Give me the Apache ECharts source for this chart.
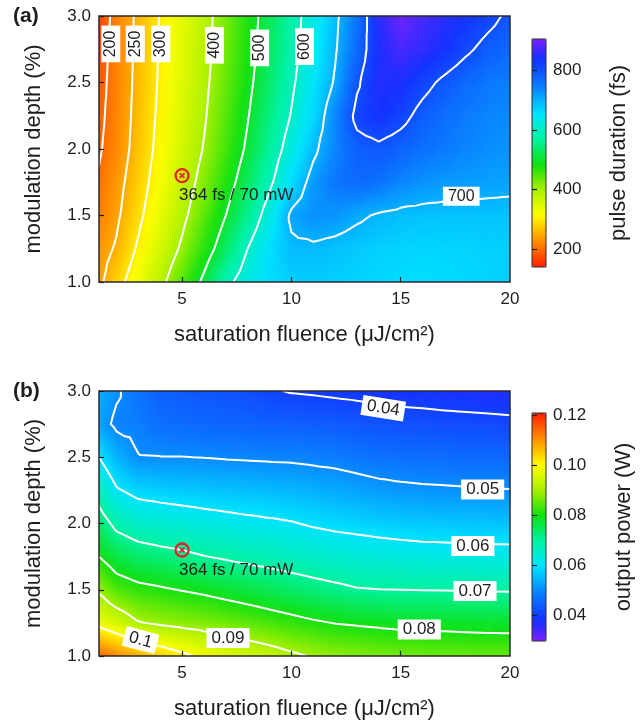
<!DOCTYPE html>
<html><head><meta charset="utf-8">
<script src="https://cdn.jsdelivr.net/npm/echarts@6/dist/echarts.min.js"></script>
<style>html,body{margin:0;padding:0;background:#fff}#c{width:644px;height:724px}</style>
</head><body><div id="c"></div>
<script>
// ---------------- data ----------------
const fluence = [1.2, 2, 3, 4, 5, 6, 7, 8, 9, 10, 11, 12, 13, 14, 15, 16, 17, 18, 19, 20];
const depth = [1.0, 1.25, 1.5, 1.75, 2.0, 2.25, 2.5, 2.75, 3.0];
// pulse duration (fs); one row per modulation depth (1.0 -> 3.0), one column per fluence
const pulseDuration = [
  [240, 280, 332, 384, 445, 512, 584, 630, 658, 672, 675, 672, 668, 664, 660, 658, 660, 664, 668, 672],
  [232, 255, 307, 357, 409, 470, 533, 600, 655, 690, 692, 685, 678, 672, 668, 665, 666, 668, 670, 672],
  [215, 242, 289, 338, 386, 441, 500, 559, 626, 710, 730, 725, 708, 695, 688, 685, 684, 684, 684, 684],
  [205, 234, 277, 325, 370, 419, 475, 531, 589, 657, 720, 755, 770, 760, 740, 728, 722, 718, 715, 712],
  [195, 223, 269, 315, 359, 403, 455, 509, 566, 625, 688, 740, 780, 790, 778, 762, 750, 740, 733, 728],
  [190, 220, 265, 310, 352, 394, 445, 497, 550, 603, 662, 737, 815, 835, 815, 785, 765, 750, 740, 735],
  [185, 219, 262, 306, 347, 388, 436, 487, 538, 590, 647, 706, 792, 845, 840, 815, 790, 770, 755, 745],
  [180, 218, 260, 304, 344, 384, 430, 480, 530, 580, 635, 694, 769, 840, 870, 855, 835, 808, 785, 770],
  [170, 217, 259, 302, 342, 382, 427, 476, 525, 575, 629, 688, 757, 850, 895, 870, 850, 835, 815, 790]
];
// output power (W)
const outputPower = [
  [0.114, 0.111, 0.1075, 0.1045, 0.1015, 0.0985, 0.0965, 0.0948, 0.0932, 0.0912, 0.0895, 0.0882, 0.0874, 0.0868, 0.0863, 0.086, 0.0858, 0.0856, 0.0855, 0.0854],
  [0.098, 0.0949, 0.0904, 0.089, 0.088, 0.0871, 0.0861, 0.0848, 0.0834, 0.0821, 0.0808, 0.0798, 0.0793, 0.0788, 0.0783, 0.0782, 0.078, 0.0778, 0.0776, 0.0775],
  [0.089, 0.084, 0.0818, 0.0808, 0.0797, 0.0787, 0.0774, 0.0762, 0.075, 0.0737, 0.0725, 0.0715, 0.0704, 0.0701, 0.07, 0.0699, 0.0698, 0.0697, 0.0696, 0.0695],
  [0.080, 0.0758, 0.0736, 0.0725, 0.0715, 0.0702, 0.0692, 0.0682, 0.0674, 0.0665, 0.0656, 0.0647, 0.064, 0.0636, 0.0632, 0.0628, 0.0627, 0.0625, 0.0624, 0.0623],
  [0.0734, 0.0682, 0.0656, 0.0646, 0.0638, 0.063, 0.0623, 0.0616, 0.061, 0.0604, 0.0593, 0.0585, 0.058, 0.0574, 0.0569, 0.0566, 0.0564, 0.0562, 0.0561, 0.056],
  [0.0668, 0.0607, 0.058, 0.0573, 0.0568, 0.0563, 0.0558, 0.0554, 0.0551, 0.0546, 0.0539, 0.0533, 0.0525, 0.0517, 0.0512, 0.0509, 0.0507, 0.0505, 0.0503, 0.0502],
  [0.060, 0.0543, 0.0502, 0.0501, 0.0501, 0.0499, 0.0496, 0.0494, 0.0492, 0.0491, 0.0487, 0.0483, 0.0476, 0.0469, 0.0466, 0.0463, 0.0461, 0.0459, 0.0458, 0.0456],
  [0.0525, 0.0488, 0.0484, 0.0465, 0.046, 0.0455, 0.045, 0.0448, 0.0446, 0.0443, 0.0441, 0.0437, 0.0431, 0.0427, 0.0422, 0.042, 0.0417, 0.0415, 0.0413, 0.0411],
  [0.054, 0.0508, 0.047, 0.0445, 0.0435, 0.043, 0.0425, 0.042, 0.0405, 0.0397, 0.0394, 0.039, 0.0387, 0.0384, 0.038, 0.0378, 0.0376, 0.0374, 0.0372, 0.037]
];
const durationLevels = [200, 250, 300, 400, 500, 600, 700, 800];
const powerLevels = [0.04, 0.05, 0.06, 0.07, 0.08, 0.09, 0.1];
const fluenceTicks = [5, 10, 15];
const fluenceTickLabels = [5, 10, 15, 20];
const durationBarTicks = [200, 400, 600, 800];
const powerBarTicks = [0.04, 0.06, 0.08, 0.10, 0.12];
const durationRange = [140, 905];
const powerRange = [0.0296, 0.1208];
// contour label anchors [fluence, depth, text]
const durationLabelSpots = [[1.74, 2.79, '200'], [2.86, 2.79, '250'], [4.03, 2.79, '300'], [6.48, 2.78, '400'], [8.55, 2.76, '500'], [10.6, 2.77, '600'], [17.77, 1.645, '700']];
const powerLabelSpots = [[14.2, 2.87, '0.04'], [18.75, 2.257, '0.05'], [18.3, 1.83, '0.06'], [18.4, 1.49, '0.07'], [15.85, 1.2, '0.08'], [7.1, 1.135, '0.09'], [3.1, 1.12, '0.1']];
const operatingPoint = [5, 1.8];
const operatingText = '364 fs / 70 mW';

// ---------------- styles ----------------
const durationLabelAngles = [90, 90, 90, 90, 90, 90, 0];
const powerLabelAngles = [-9, 0, 0, 0, 0, 0, -15];
const FONT = "'Liberation Sans', Arial, Helvetica, sans-serif";
const INK = '#1e1e1e';
// rainbow colour ramp, position 0 = violet end, 1 = red end
const rampStops = [[0, '#7b1fff'], [0.09, '#1430ff'], [0.2, '#0a78ff'], [0.33, '#00e4ff'], [0.44, '#00f2a0'], [0.55, '#10e010'], [0.66, '#a6f000'], [0.77, '#ffff00'], [0.88, '#ff9400'], [1, '#ff1e00']];

function hexRgb(h) { return [parseInt(h.substr(1, 2), 16), parseInt(h.substr(3, 2), 16), parseInt(h.substr(5, 2), 16)]; }
function rampColor(t) {
  t = Math.max(0, Math.min(1, t));
  let k = 0;
  while (k < rampStops.length - 2 && t > rampStops[k + 1][0]) k++;
  const a = rampStops[k], b = rampStops[k + 1];
  const f = (t - a[0]) / (b[0] - a[0]);
  const ca = hexRgb(a[1]), cb = hexRgb(b[1]);
  return 'rgb(' + [0, 1, 2].map(c => Math.round(ca[c] + (cb[c] - ca[c]) * f)).join(',') + ')';
}
// duration: red = short (reversed ramp); power: violet = low
function colorAt(v, range, reversed) {
  let t = (v - range[0]) / (range[1] - range[0]);
  if (reversed) t = 1 - t;
  return rampColor(t);
}
function rampList(reversed) {
  const out = [];
  for (let k = 0; k <= 60; k++) out.push(rampColor(reversed ? 1 - k / 60 : k / 60));
  return out;
}
// linear colour shading of one triangle (renderer-side shading between the three read values)
function triangleFill(P, V, range, reversed) {
  const [x1, y1] = P[0], [x2, y2] = P[1], [x3, y3] = P[2];
  const [v1, v2, v3] = V;
  const vmin = Math.min(v1, v2, v3), vmax = Math.max(v1, v2, v3);
  const det = (x2 - x1) * (y3 - y1) - (x3 - x1) * (y2 - y1);
  if (Math.abs(det) < 1e-9 || vmax - vmin < 1e-12) return colorAt((v1 + v2 + v3) / 3, range, reversed);
  const a = ((v2 - v1) * (y3 - y1) - (v3 - v1) * (y2 - y1)) / det;
  const b = ((x2 - x1) * (v3 - v1) - (x3 - x1) * (v2 - v1)) / det;
  const g2 = a * a + b * b;
  if (g2 < 1e-20) return colorAt((v1 + v2 + v3) / 3, range, reversed);
  const s0 = (vmin - v1) / g2, s1 = (vmax - v1) / g2;
  const n = Math.max(2, Math.ceil((vmax - vmin) / (range[1] - range[0]) * 30) + 1);
  const stops = [];
  for (let k = 0; k < n; k++) stops.push({ offset: k / (n - 1), color: colorAt(vmin + (vmax - vmin) * k / (n - 1), range, reversed) });
  return { type: 'linear', x: x1 + a * s0, y: y1 + b * s0, x2: x1 + a * s1, y2: y1 + b * s1, global: true, colorStops: stops };
}

function heatSeries(gi, Z, range, reversed) {
  const cells = [];
  for (let j = 0; j < depth.length - 1; j++)
    for (let i = 0; i < fluence.length - 1; i++)
      cells.push([(fluence[i] + fluence[i + 1]) / 2, (depth[j] + depth[j + 1]) / 2, i, j]);
  return {
    type: 'custom', coordinateSystem: 'cartesian2d', xAxisIndex: gi, yAxisIndex: gi,
    clip: true, silent: true, z: 1, data: cells,
    renderItem: function (params, api) {
      const i = api.value(2), j = api.value(3);
      const A = api.coord([fluence[i], depth[j]]), B = api.coord([fluence[i + 1], depth[j]]);
      const C = api.coord([fluence[i + 1], depth[j + 1]]), D = api.coord([fluence[i], depth[j + 1]]);
      const M = [(A[0] + C[0]) / 2, (A[1] + C[1]) / 2];
      const vA = Z[j][i], vB = Z[j][i + 1], vC = Z[j + 1][i + 1], vD = Z[j + 1][i];
      const vM = (vA + vB + vC + vD) / 4;
      const tris = [[A, B, vA, vB], [B, C, vB, vC], [C, D, vC, vD], [D, A, vD, vA]];
      return {
        type: 'group',
        children: tris.map(t => {
          const fill = triangleFill([t[0], t[1], M], [t[2], t[3], vM], range, reversed);
          return { type: 'polygon', shape: { points: [t[0], t[1], M] }, style: { fill: fill, stroke: fill, lineWidth: 1 } };
        })
      };
    }
  };
}

// contour tracing (marching triangles on the same triangulation as the shading)
function contourPolylines(Z, level) {
  const segs = [];
  const cross = (P, Q) => {
    if (P.id > Q.id) { const t = P; P = Q; Q = t; }
    const t = (level - P.v) / (Q.v - P.v);
    return [P.x + t * (Q.x - P.x), P.y + t * (Q.y - P.y)];
  };
  const node = (i, j) => ({ x: fluence[i], y: depth[j], v: Z[j][i], id: 'c' + String(j).padStart(3, '0') + String(i).padStart(3, '0') });
  for (let j = 0; j < depth.length - 1; j++) {
    for (let i = 0; i < fluence.length - 1; i++) {
      const A = node(i, j), B = node(i + 1, j), C = node(i + 1, j + 1), D = node(i, j + 1);
      const M = { x: (A.x + B.x) / 2, y: (A.y + D.y) / 2, v: (A.v + B.v + C.v + D.v) / 4, id: 'm' + j + '_' + i };
      [[A, B, M], [B, C, M], [C, D, M], [D, A, M]].forEach(T => {
        const pts = [];
        [[0, 1], [1, 2], [2, 0]].forEach(e => {
          const a = T[e[0]], b = T[e[1]];
          if ((a.v >= level) !== (b.v >= level)) pts.push(cross(a, b));
        });
        if (pts.length === 2) segs.push(pts);
      });
    }
  }
  const key = p => p[0].toFixed(5) + '_' + p[1].toFixed(5);
  const map = new Map();
  segs.forEach((s, idx) => s.forEach(p => { const k = key(p); if (!map.has(k)) map.set(k, []); map.get(k).push(idx); }));
  const used = new Array(segs.length).fill(false);
  const extend = path => {
    for (;;) {
      const last = path[path.length - 1];
      const c = (map.get(key(last)) || []).find(x => !used[x]);
      if (c === undefined) break;
      used[c] = true;
      const s = segs[c];
      path.push(key(s[0]) === key(last) ? s[1] : s[0]);
    }
  };
  const out = [];
  segs.forEach((s, idx) => {
    if (used[idx]) return;
    used[idx] = true;
    const path = [s[0], s[1]];
    extend(path); path.reverse(); extend(path);
    out.push(path);
  });
  return out;
}

function contourSeries(gi, Z, levels) {
  const data = [];
  levels.forEach(L => contourPolylines(Z, L).forEach(p => data.push({ coords: p })));
  return {
    type: 'lines', coordinateSystem: 'cartesian2d', xAxisIndex: gi, yAxisIndex: gi, polyline: true,
    silent: true, z: 3, data: data,
    lineStyle: { color: '#ffffff', width: 2, opacity: 1, curveness: 0, cap: 'round', join: 'round' }
  };
}

function labelSeries(gi, spots, angles, fs) {
  return {
    type: 'scatter', xAxisIndex: gi, yAxisIndex: gi, silent: true, z: 6, symbolSize: 1,
    itemStyle: { color: 'rgba(0,0,0,0)', opacity: 1 },
    data: spots.map((s, k) => ({ value: [s[0], s[1]], name: s[2], label: { rotate: angles[k] } })),
    label: { show: true, position: 'inside', formatter: '{b}', color: INK, opacity: 1, fontSize: fs, fontFamily: FONT,
      backgroundColor: '#ffffff', padding: [1, 5], lineHeight: fs + 1 }
  };
}

function markerSeries(gi) {
  return [
    { type: 'scatter', xAxisIndex: gi, yAxisIndex: gi, silent: true, z: 7, symbol: 'circle', symbolSize: 13,
      itemStyle: { color: 'rgba(255,255,255,0)', borderColor: '#e3242b', borderWidth: 2.3, opacity: 1 },
      data: [operatingPoint],
      label: { show: true, formatter: operatingText, position: 'inside', align: 'left', verticalAlign: 'middle',
        offset: [-3, 20], color: INK, opacity: 1, fontSize: 17, fontFamily: FONT } },
    { type: 'scatter', xAxisIndex: gi, yAxisIndex: gi, silent: true, z: 8,
      symbol: 'path://M2,0L5,3L8,0L10,2L7,5L10,8L8,10L5,7L2,10L0,8L3,5L0,2Z', symbolSize: 6,
      itemStyle: { color: '#e3242b', opacity: 1 }, data: [operatingPoint] }
  ];
}

function mainX(gi) {
  return {
    gridIndex: gi, type: 'value', min: fluence[0], max: fluence[fluence.length - 1], z: 10,
    axisLine: { show: false }, splitLine: { show: false },
    axisTick: { show: true, inside: true, length: 5, customValues: fluenceTicks, lineStyle: { color: INK, width: 1.2 } },
    axisLabel: { customValues: fluenceTickLabels, fontSize: 17, color: INK, margin: 9, fontFamily: FONT },
    name: 'saturation fluence (μJ/cm²)', nameLocation: 'middle', nameGap: 42,
    nameTextStyle: { fontSize: 22, color: INK, fontFamily: FONT }
  };
}
function mainY(gi) {
  return {
    gridIndex: gi, type: 'value', min: 1, max: 3, interval: 0.5, z: 10,
    axisLine: { show: false }, splitLine: { show: false },
    axisTick: { show: true, inside: true, length: 5, lineStyle: { color: INK, width: 1.2 } },
    axisLabel: { formatter: v => v.toFixed(1), fontSize: 17, color: INK, margin: 8, fontFamily: FONT },
    name: 'modulation depth (%)', nameLocation: 'middle', nameGap: 54,
    nameTextStyle: { fontSize: 22, color: INK, fontFamily: FONT }
  };
}
function barY(gi, range, ticks, fmt, name, gap) {
  return {
    gridIndex: gi, type: 'value', position: 'right', min: range[0], max: range[1], z: 11,
    axisLine: { show: false }, splitLine: { show: false },
    axisTick: { show: true, inside: false, length: 5, customValues: ticks, lineStyle: { color: INK, width: 1.2 } },
    axisLabel: { customValues: ticks, formatter: fmt, fontSize: 17, color: INK, margin: 7, fontFamily: FONT },
    name: name, nameLocation: 'middle', nameGap: gap,
    nameTextStyle: { fontSize: 22, color: INK, fontFamily: FONT }
  };
}

const frame = { show: true, borderColor: '#2a2a2a', borderWidth: 1.5, backgroundColor: 'rgba(0,0,0,0)', z: 10 };
const option = {
  animation: false,
  backgroundColor: '#ffffff',
  textStyle: { fontFamily: FONT },
  title: [
    { text: '(a)', left: 13, top: 6, padding: 0, textStyle: { fontSize: 21, fontWeight: 'bold', color: INK, fontFamily: FONT } },
    { text: '(b)', left: 13, top: 381, padding: 0, textStyle: { fontSize: 21, fontWeight: 'bold', color: INK, fontFamily: FONT } }
  ],
  grid: [
    Object.assign({ left: 99, top: 16, width: 411, height: 266 }, frame),
    Object.assign({ left: 99, top: 391, width: 411, height: 265 }, frame),
    Object.assign({ left: 532, top: 39, width: 14, height: 228 }, frame, { borderWidth: 1 }),
    Object.assign({ left: 532, top: 413, width: 14, height: 228 }, frame, { borderWidth: 1 })
  ],
  xAxis: [mainX(0), mainX(1),
    { gridIndex: 2, type: 'value', show: false }, { gridIndex: 3, type: 'value', show: false }],
  yAxis: [mainY(0), mainY(1),
    barY(2, durationRange, durationBarTicks, v => String(Math.round(v)), 'pulse duration (fs)', 62),
    barY(3, powerRange, powerBarTicks, v => v.toFixed(2), 'output power (W)', 67)],
  visualMap: [
    { type: 'continuous', seriesIndex: 0, min: durationRange[0], max: durationRange[1], left: 532, top: 39,
      itemWidth: 14, itemHeight: 228, padding: 0, calculable: false, hoverLink: false, inRange: { color: rampList(true) } },
    { type: 'continuous', seriesIndex: 1, min: powerRange[0], max: powerRange[1], left: 532, top: 413,
      itemWidth: 14, itemHeight: 228, padding: 0, calculable: false, hoverLink: false, inRange: { color: rampList(false) } }
  ],
  series: [
    heatSeries(0, pulseDuration, durationRange, true),
    heatSeries(1, outputPower, powerRange, false),
    contourSeries(0, pulseDuration, durationLevels),
    contourSeries(1, outputPower, powerLevels),
    labelSeries(0, durationLabelSpots, durationLabelAngles, 16),
    labelSeries(1, powerLabelSpots, powerLabelAngles, 17)
  ].concat(markerSeries(0), markerSeries(1))
};
const chart = echarts.init(document.getElementById('c'), null, { renderer: 'canvas' });
chart.setOption(option);
</script></body></html>
